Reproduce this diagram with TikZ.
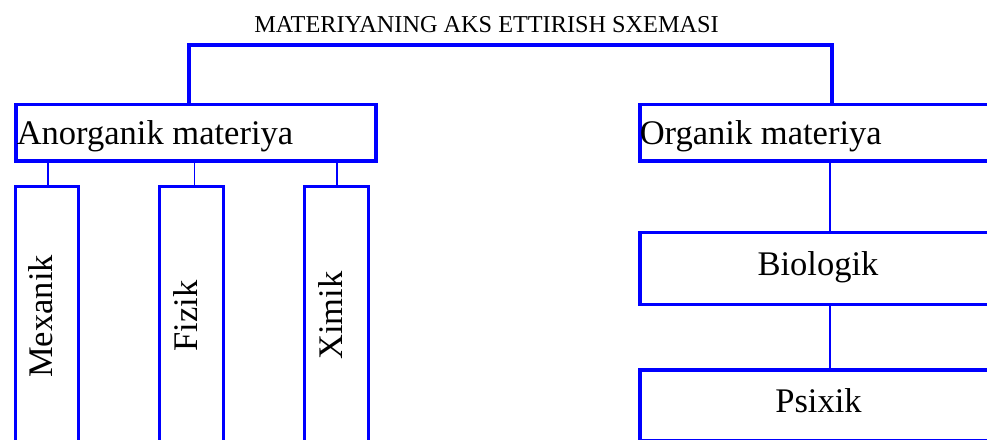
\documentclass[tikz,border=0pt]{standalone}
\usepackage{fontspec}
\setmainfont{Liberation Serif}
\definecolor{boxblue}{RGB}{0,0,255}
\begin{document}
\begin{tikzpicture}[x=0.75pt,y=-0.75pt,
  thickbox/.style={draw=boxblue,line width=2.4pt,rectangle,inner sep=0pt},
  thinlink/.style={draw=boxblue,line width=1.2pt},
  bracket/.style={draw=boxblue,line width=2.4pt,line join=miter},
  lbl/.style={inner sep=0pt,font=\fontsize{25.9pt}{30pt}\selectfont,text=black},
  ttl/.style={inner sep=0pt,font=\fontsize{18.2pt}{21pt}\selectfont,text=black}]
\clip (0,0) rectangle (987,439);
\fill[white] (0,0) rectangle (987,439);
% boxes (corner coordinates on line centres)
\node[thickbox,minimum width=360pt*0.75,minimum height=56.6pt*0.75,anchor=north west] (anorg) at (14.3,102.7) {};
\node[thickbox,minimum width=370pt*0.75,minimum height=56.6pt*0.75,anchor=north west] (org) at (638.3,102.7) {};
\node[thickbox,minimum width=63.5pt*0.75,minimum height=300pt*0.75,anchor=north west] (mex) at (13.5,184.5) {};
\node[thickbox,minimum width=64pt*0.75,minimum height=300pt*0.75,anchor=north west] (fiz) at (158,184.5) {};
\node[thickbox,minimum width=64pt*0.75,minimum height=300pt*0.75,anchor=north west] (xim) at (303,184.5) {};
\node[thickbox,minimum width=360pt*0.75,minimum height=71.7pt*0.75,anchor=north west] (bio) at (638.3,231) {};
\node[thickbox,minimum width=360pt*0.75,minimum height=70.2pt*0.75,anchor=north west] (psi) at (638.3,368.3) {};
% texts
\node[ttl,anchor=base] (title) at (486.5,32) {MATERIYANING AKS ETTIRISH SXEMASI};
\node[lbl,anchor=base west] (anorgt) at (16.5,144.5) {Anorganik materiya};
\node[lbl,anchor=base west] (orgt) at (639.5,144) {Organik materiya};
\node[lbl,anchor=base] (biot) at (818,275) {Biologik};
\node[lbl,anchor=base] (psit) at (818.5,412) {Psixik};
\node[lbl,anchor=base,rotate=90] (mext) at (52.5,316.5) {Mexanik};
\node[lbl,anchor=base,rotate=90] (fizt) at (197,316) {Fizik};
\node[lbl,anchor=base,rotate=90] (ximt) at (342,315.5) {Ximik};
% top bracket
\coordinate (tl) at (189,45);
\coordinate (tr) at (832,45);
\draw[bracket] (anorg.north -| tl) -- (tl) -- (tr) -- (org.north -| tr);
% thin connectors
\draw[thinlink] (anorg.south -| mex.north west) ++(34.2,0) coordinate (c1) -- (c1 |- mex.north);
\draw[thinlink] (anorg.south -| fiz.north) ++(2.7,0) coordinate (c2) -- (c2 |- fiz.north);
\draw[thinlink] (anorg.south -| xim.north) ++(0.3,0) coordinate (c3) -- (c3 |- xim.north);
\coordinate (oc) at (830,159.3);
\draw[thinlink] (oc) -- (oc |- bio.north);
\draw[thinlink] (oc |- bio.south) -- (oc |- psi.north);
\end{tikzpicture}
\end{document}
